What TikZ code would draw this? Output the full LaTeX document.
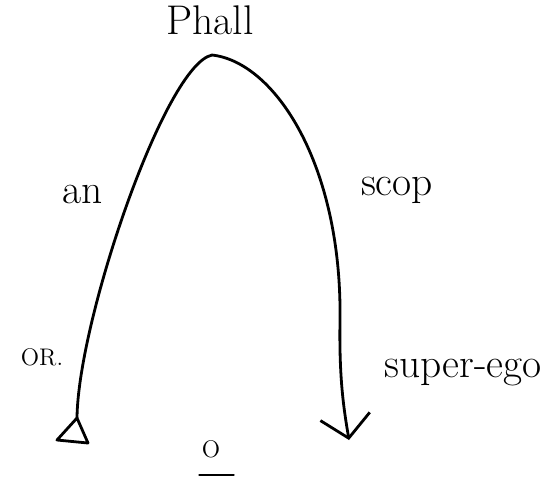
\documentclass[tikz,border=0pt]{standalone}
\usepackage{tikz}
\usetikzlibrary{arrows.meta}
\begin{document}
\begin{tikzpicture}[x=0.5pt,y=-0.5pt,
    lbl/.style={font=\huge,inner sep=0pt,anchor=base},
    sml/.style={font=\large,inner sep=0pt,anchor=base},
    arc/.style={line width=1.4pt,line cap=round,line join=round},
    >={Straight Barb[length=11pt,width=25pt]}]
  \useasboundingbox (0,0) rectangle (550,479);
  \coordinate (foot) at (77,418);
  \coordinate (top) at (212,55);
  \coordinate (tip) at (349,440);
  \node[lbl] (phall) at (210,34) {Phall};
  \node[lbl] (an) at (83,203) {an};
  \node[lbl] (scop) at (397,195) {scop};
  \node[sml] (or) at (42,365) {OR.};
  \node[lbl] (superego) at (463,377) {super-ego};
  \node[sml] (o) at (211,457) {O};
  \draw[arc] ([shift={(-2,17)}]o.south west) -- ([shift={(13,17)}]o.south east);
  \draw[arc] (foot) -- (57,440) -- (88,443) -- cycle;
  \draw[arc,->] (foot) .. controls (78,320) and (165,65) .. (top)
    .. controls (275,62) and (342,165) .. (340,320)
    .. controls (339,380) and (344,410) .. (tip);
\end{tikzpicture}
\end{document}
